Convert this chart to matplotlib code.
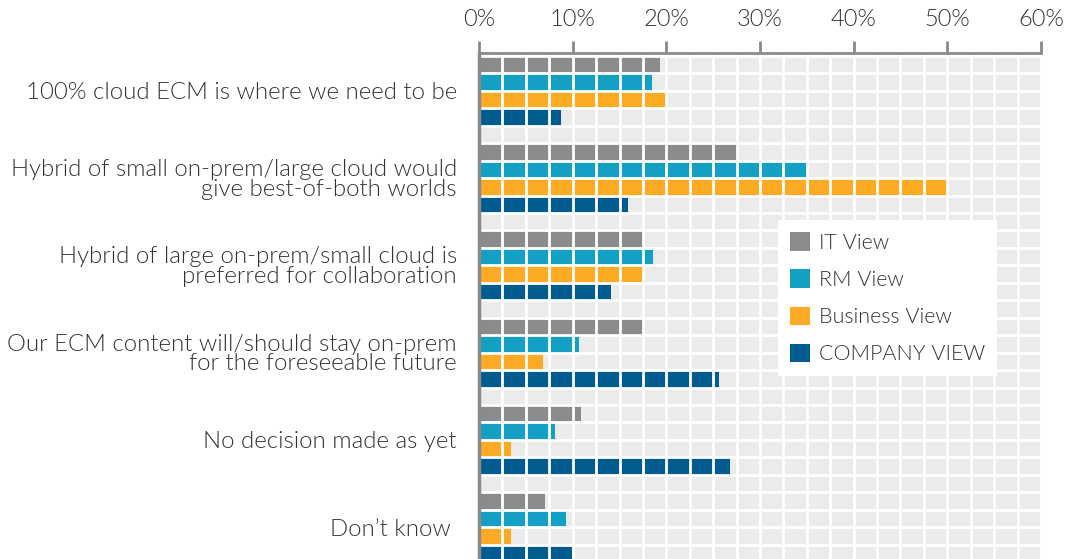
import numpy as np
import matplotlib.pyplot as plt
from matplotlib.patches import Patch

# survey answers
categories = ['100% cloud ECM is where we need to be',
              'Hybrid of small on-prem/large cloud would\ngive best-of-both worlds',
              'Hybrid of large on-prem/small cloud is\npreferred for collaboration',
              'Our ECM content will/should stay on-prem\nfor the foreseeable future',
              'No decision made as yet',
              'Don\u2019t know ']
it_view = [19.3, 27.5, 17.5, 17.5, 10.9, 7.0]
rm_view = [18.5, 35.0, 18.6, 10.7, 8.1, 9.3]
business_view = [20.0, 50.0, 17.5, 6.8, 3.4, 3.4]
company_view = [8.75, 15.9, 14.1, 25.6, 26.8, 9.9]
series_names = ['IT View', 'RM View', 'Business View', 'COMPANY VIEW']
x_ticks = [0, 10, 20, 30, 40, 50, 60]

colors = ['#8a8b8d', '#14a0c4', '#fdaa24', '#005c8f']
series = [it_view, rm_view, business_view, company_view]

plt.rcParams['font.family'] = ['Lato', 'DejaVu Sans']
txt = '#333333'
wt = 300

fig = plt.figure(figsize=(10.68, 5.59), dpi=100)
ax = fig.add_axes([479/1068, -0.0054, 562/1068, 0.91])

n = len(categories)
for k in range(4):
    ypos = np.arange(n)*5 + k
    ax.barh(ypos, series[k], height=1.0, color=colors[k], zorder=1)

nrows = n*5 - 1
ax.axhspan(-0.5, nrows - 0.5, color='#ebebeb', zorder=0)
ax.set_xlim(0, 60)
ax.set_ylim(nrows - 0.5, -0.65)

ax.xaxis.tick_top()
ax.set_xticks(x_ticks)
ax.set_xticklabels([str(t) + '%' for t in x_ticks], fontsize=17,
                   fontweight=wt, color=txt)
ax.set_xticks(np.arange(0, 60.1, 2.5), minor=True)
ax.set_yticks(np.arange(n)*5 + 1.5)
ax.set_yticklabels(categories, fontsize=17.3, fontweight=wt, color=txt,
                   linespacing=0.92)
ax.set_yticks(np.arange(nrows + 1) - 0.5, minor=True)

ax.tick_params(axis='x', which='major', direction='out', length=9, width=2,
               color='#8a8a8a', pad=8)
ax.tick_params(axis='y', which='major', length=0, pad=16)
ax.tick_params(which='minor', length=0)
ax.set_facecolor('white')
ax.set_axisbelow(False)
ax.grid(which='both', color='white', linewidth=2)

for s in ['right', 'bottom']:
    ax.spines[s].set_visible(False)
ax.spines['top'].set_color('#8a8a8a')
ax.spines['top'].set_linewidth(2)
ax.spines['left'].set_color('#8a8a8a')
ax.spines['left'].set_linewidth(2.5)
ax.spines['left'].set_zorder(5)
ax.spines['top'].set_zorder(5)

handles = [Patch(facecolor=colors[k], edgecolor='none') for k in range(4)]
leg = ax.legend(handles, series_names, loc='upper left', bbox_to_anchor=(0.532, 0.672),
                frameon=True, fancybox=False, framealpha=1, edgecolor='none',
                facecolor='white', prop={'size': 15.5, 'weight': wt},
                handlelength=0.95, handleheight=0.95, handletextpad=0.4,
                labelspacing=0.77, borderpad=0.55, borderaxespad=0)
for t in leg.get_texts():
    t.set_color(txt)

fig.savefig('out.png', dpi=100)
